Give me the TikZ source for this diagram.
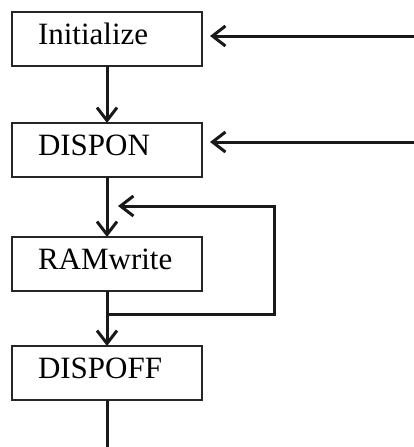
\documentclass[tikz,border=0pt]{standalone}
\usepackage{fontspec}
\setmainfont{Liberation Serif}
\usetikzlibrary{arrows.meta}
\begin{document}
\begin{tikzpicture}[x=1pt,y=-1pt,
 box/.style={draw=black!85, line width=2.4pt, rectangle, minimum width=190pt, minimum height=54pt,
   text width=138pt, inner xsep=26pt, inner ysep=0pt, align=left, text height=20pt,
   text depth=10pt, font=\fontsize{31}{31}\selectfont, anchor=north west, outer sep=0pt},
 flow/.style={draw=black!90, line width=3pt, -{Straight Barb[length=13pt,width=20pt]}},
 plain/.style={draw=black!90, line width=3pt}]
\useasboundingbox (0,0) rectangle (414,447);
\node[box] (init) at (12,12) {Initialize};
\node[box] (dispon) at (12,123) {DISPON};
\node[box] (ram) at (12,237) {RAMwrite};
\node[box] (dispoff) at (12,346) {DISPOFF};
\coordinate (s1) at (414,36);
\coordinate (s2) at (414,142);
\coordinate (lb) at (107,314);
\coordinate (lt) at (274,206);
\coordinate (end) at (107,447);
\draw[flow] (init.south) -- (dispon.north);
\draw[flow] (dispon.south) -- (ram.north);
\draw[flow] (ram.south) -- (dispoff.north);
\draw[plain] (dispoff.south) -- (end);
\draw[flow, shorten >=8pt] (s1) -- (s1 -| init.east);
\draw[flow, shorten >=8pt] (s2) -- (s2 -| dispon.east);
\draw[flow, line join=miter, shorten >=11pt] (lb) -- (lb -| lt) -- (lt) -- (lt -| ram.north);
\end{tikzpicture}
\end{document}
